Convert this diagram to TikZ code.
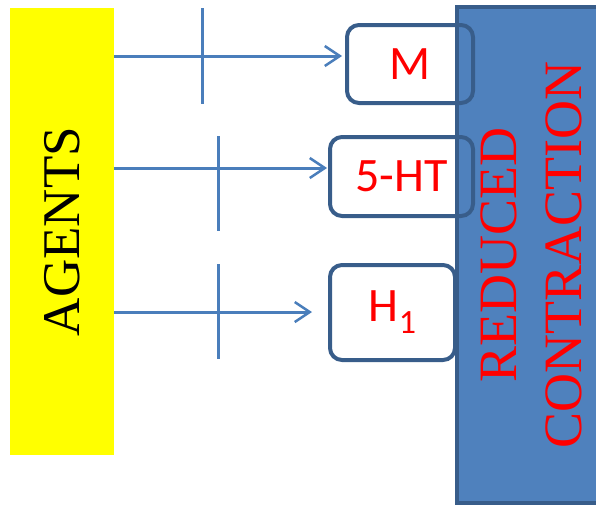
\documentclass[tikz,border=0pt]{standalone}
\usepackage{fontspec}
\setmainfont{Liberation Serif}
\newfontfamily\boxfont{Carlito}
\usetikzlibrary{arrows.meta}
\definecolor{agentyellow}{RGB}{255,255,0}
\definecolor{panelblue}{RGB}{79,129,189}
\definecolor{edgeblue}{RGB}{56,93,138}
\definecolor{linkblue}{RGB}{74,126,187}

\begin{document}
\begin{tikzpicture}[x=1pt,y=-1pt,
  agentbar/.style={fill=agentyellow, inner sep=0pt, minimum width=104pt, minimum height=447pt,
    font=\fontsize{53}{60}\selectfont},
  panel/.style={fill=panelblue, draw=edgeblue, line width=4pt, inner sep=0pt,
    minimum width=148pt, minimum height=496pt, text=red, font=\fontsize{54}{65}\selectfont},
  target/.style={draw=edgeblue, line width=4pt, rounded corners=12pt, inner sep=0pt,
    text=red, font=\boxfont\fontsize{48}{50}\selectfont},
  link/.style={draw=linkblue, line width=3pt, -{Straight Barb[length=15pt,width=20pt,line width=2.5pt]}},
  tick/.style={draw=linkblue, line width=3pt}
]
  \useasboundingbox (0,0) rectangle (596,506);

  \node[agentbar] (agents) at (62,231.5) {\rotatebox{90}{AGENTS}};
  \node[panel] (reduced) at (531,255)
    {\hspace*{9pt}\rotatebox{90}{\begin{tabular}{@{}c@{}}REDUCED\\CONTRACTION\end{tabular}}};

  \node[target, minimum width=126pt, minimum height=78pt] (M) at (410,64) {M};
  \node[target, minimum width=143pt, minimum height=79pt] (HT) at (401.5,176.5) {5-HT};
  \node[target, minimum width=125pt, minimum height=95pt] (H1) at (392.5,312.5)
    {H\raisebox{-12pt}{\fontsize{34}{34}\selectfont 1}};

  \coordinate (m-in) at (0,56);
  \coordinate (ht-in) at (0,168);
  \coordinate (h1-in) at (0,312);
  \draw[link, shorten >=3pt] (agents.east |- m-in) -- (M.west |- m-in);
  \draw[link, shorten >=1pt] (agents.east |- ht-in) -- (HT.west |- ht-in);
  \draw[link, shorten >=16pt] (agents.east |- h1-in) -- (H1.west |- h1-in);

  \draw[tick] (202,8) -- (202,104);
  \draw[tick] (218,136) -- (218,231);
  \draw[tick] (218,264) -- (218,359);
\end{tikzpicture}
\end{document}
